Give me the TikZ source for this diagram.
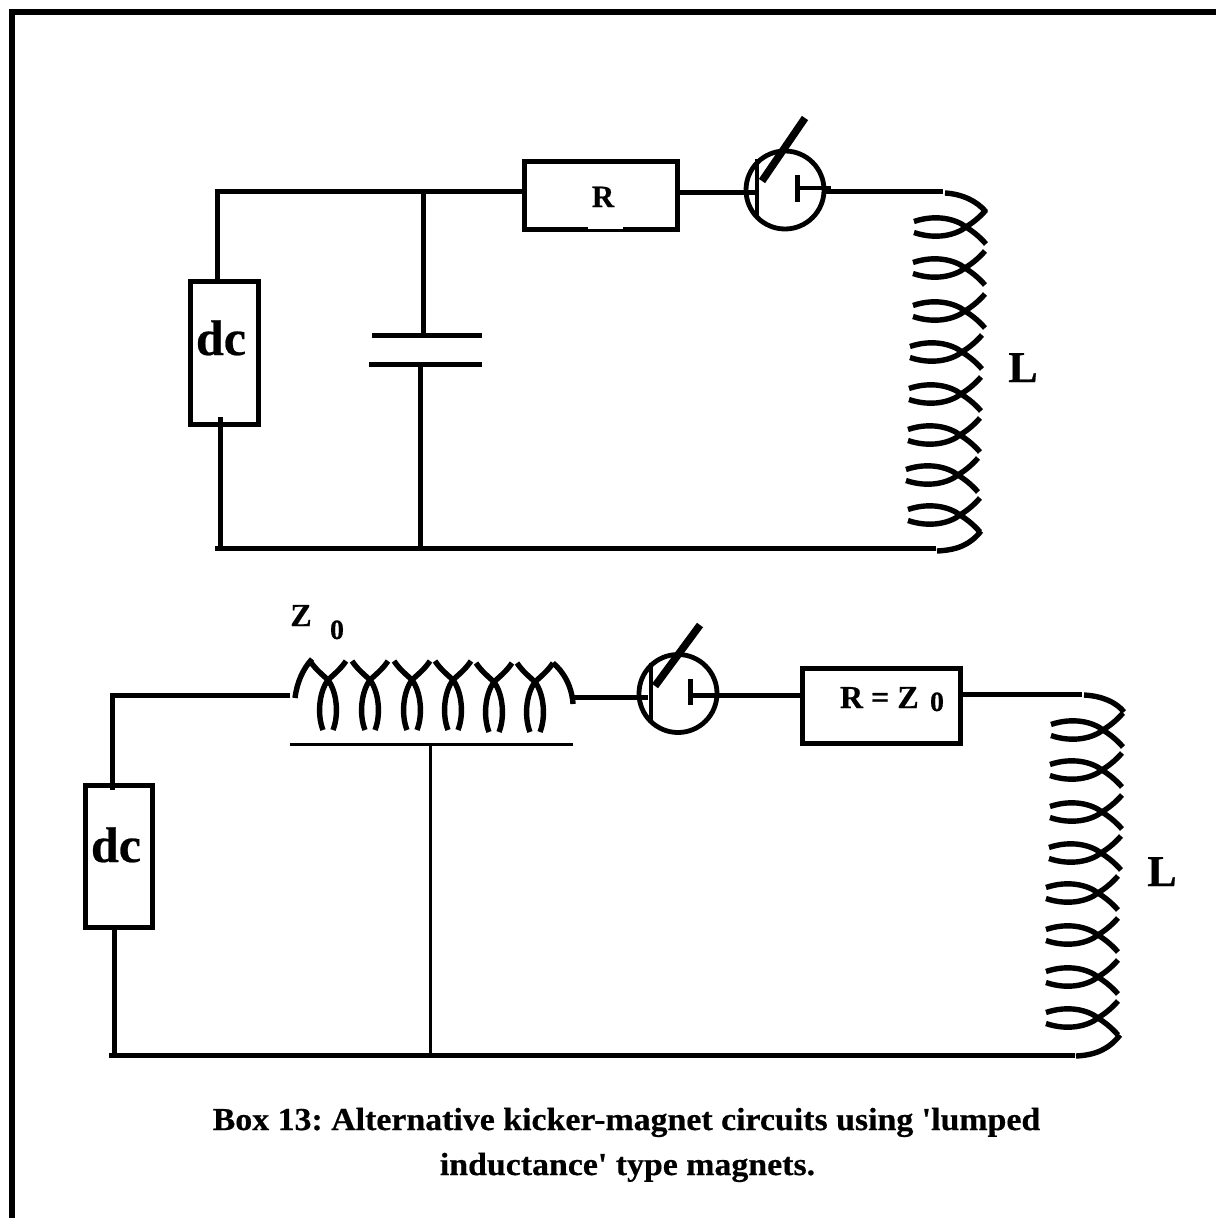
\documentclass[tikz,border=0pt]{standalone}
\usepackage{fontspec}
\setmainfont{Liberation Serif}[BoldFeatures={FakeBold=0.5}]
\newfontfamily\capfont{Liberation Serif}[FakeStretch=1.058,BoldFeatures={FakeStretch=1.058,FakeBold=0.5}]
\newcommand{\fsz}[1]{\fontsize{#1}{#1}\selectfont\bfseries}
\tikzset{
  wire/.style={line width=5pt,black},
  coilwire/.style={line width=5.4pt,black},
  thinwire/.style={line width=3pt,black},
  boxnode/.style={draw=black,line width=5pt,rectangle,inner sep=0pt,outer sep=0pt},
  sw/.style={draw=black,line width=4.8pt,circle,inner sep=0pt,outer sep=0pt,minimum size=78pt},
  lab/.style={anchor=base,inner sep=0pt,outer sep=0pt,black},
}
% one turn of the upright coil, given its crossing point
\newcommand{\turnV}[2]{%
  \begin{scope}[shift={(#1,#2)}]
    \draw[coilwire] (20,17) .. controls (12,8) and (6,4) .. (0,0) .. controls (-10,-8) and (-30,-13) .. (-52,-5.5);
    \draw[coilwire] (20,-17) .. controls (12,-8) and (6,-4) .. (0,0) .. controls (-10,8) and (-30,13) .. (-52,5.5);
  \end{scope}}
% one turn of the lying coil
\newcommand{\turnH}[2]{%
  \begin{scope}[shift={(#1,#2)}]
    \draw[coilwire] (18,-19) .. controls (12,-10) and (5,-5) .. (0,0) .. controls (-9,12) and (-11,35) .. (-5,50);
    \draw[coilwire] (-18,-19) .. controls (-12,-10) and (-5,-5) .. (0,0) .. controls (9,12) and (11,35) .. (5,50);
  \end{scope}}
\begin{document}
\begin{tikzpicture}[x=1pt,y=-1pt]
\frenchspacing
\useasboundingbox (0,0) rectangle (1216,1218);
\fill[white] (0,0) rectangle (1216,1218);
% frame
\coordinate (fbl) at (12,1218);
\coordinate (ftl) at (12,12);
\coordinate (ftr) at (1216,12);
\draw[line width=6pt,black] (fbl) -- (ftl) -- (ftr);

% ---- upper circuit
\node[boxnode,minimum width=68pt,minimum height=143pt] (dcA) at (224,352.5) {};
\node[lab,font=\fsz{50}] (dcAt) at (221,355) {dc};
\node[boxnode,minimum width=153pt,minimum height=68pt] (rA) at (600.5,195) {};
\fill[white] (588,226.5) rectangle (623,229);
\node[lab,font=\fsz{31}] (rAt) at (603,207) {R};
\node[sw] (swA) at (785,190) {};
\coordinate (a1) at (217,191);
\coordinate (a2) at (217,281);
\coordinate (a3) at (423,191);
\coordinate (a4) at (524,191);
\coordinate (a5) at (423,335);
\coordinate (c1l) at (372,335);
\coordinate (c1r) at (482,335);
\coordinate (c2l) at (369,364);
\coordinate (c2r) at (482,364);
\coordinate (a6) at (420,364);
\coordinate (a7) at (420,548);
\coordinate (a8) at (220,417);
\coordinate (a9) at (220,548);
\coordinate (a10) at (215,548);
\coordinate (a11) at (936,548);
\coordinate (a12) at (677,192);
\coordinate (a13) at (755,192);
\coordinate (a14) at (826,191);
\coordinate (a15) at (943,191);
\draw[wire] (a2) -- (a1) -- (a4);
\draw[wire] (a3) -- (a5);
\draw[wire] (c1l) -- (c1r);
\draw[wire] (c2l) -- (c2r);
\draw[wire] (a6) -- (a7);
\draw[wire] (a8) -- (a9);
\draw[wire] (a10) -- (a11);
\draw[wire] (a12) -- (a13);
\draw[wire] (a14) -- (a15);
% switch A
\coordinate (sa1) at (757,159);
\coordinate (sa2) at (757,217);
\coordinate (sa3) at (762,181);
\coordinate (sa4) at (805,118);
\coordinate (sa5) at (797,175);
\coordinate (sa6) at (797,202);
\coordinate (sa7) at (831,188);
\coordinate (sa8) at (797,188);
\draw[line width=4.5pt] (sa1) -- (sa2);
\draw[line width=7.5pt] (sa3) -- (sa4);
\draw[wire] (sa5) -- (sa6);
\draw[line width=4.5pt] (sa8) -- (sa7);
% coil A
\coordinate (la1) at (945,193);
\coordinate (la2) at (986,212);
\coordinate (la3) at (981,531);
\coordinate (la4) at (937,551);
\draw[coilwire] (la1) .. controls (962,194) and (977,201) .. (la2);
\draw[coilwire] (la4) .. controls (957,550) and (970,545) .. (la3);
\turnV{966}{227}\turnV{965}{268}\turnV{965}{311}\turnV{962}{352}
\turnV{961}{394}\turnV{960}{435}\turnV{958}{475}\turnV{960}{515}
\node[lab,font=\fsz{44}] (lA) at (1023,382) {L};

% ---- lower circuit
\node[boxnode,minimum width=67pt,minimum height=142pt] (dcB) at (118.5,856) {};
\node[lab,font=\fsz{50}] (dcBt) at (116,862) {dc};
\node[boxnode,minimum width=158pt,minimum height=75pt] (rB) at (881,705.5) {};
\node[lab,font=\fsz{32},anchor=base west] (rBt) at (840,708) {R = Z};
\node[lab,font=\fsz{28}] (rBs) at (937,711) {0};
\node[lab,font=\fsz{32}] (zt) at (301,626) {Z};
\node[lab,font=\fsz{28}] (zs) at (337,639) {0};
\node[sw] (swB) at (678,693.5) {};
\coordinate (b1) at (112,790);
\coordinate (b2) at (112,695);
\coordinate (b3) at (290,695);
\coordinate (b4) at (114,925);
\coordinate (b5) at (114,1055);
\coordinate (b6) at (109,1055);
\coordinate (b7) at (1075,1055);
\coordinate (b8) at (570,697);
\coordinate (b9) at (648,697);
\coordinate (b10) at (690,695);
\coordinate (b11) at (802,695);
\coordinate (b12) at (960,694.5);
\coordinate (b13) at (1082,694.5);
\coordinate (t1) at (290,744);
\coordinate (t2) at (573,744);
\coordinate (t3) at (430,744);
\coordinate (t4) at (430,1055);
\draw[wire] (b1) -- (b2) -- (b3);
\draw[wire] (b4) -- (b5);
\draw[wire] (b6) -- (b7);
\draw[wire] (b8) -- (b9);
\draw[wire] (b10) -- (b11);
\draw[wire] (b12) -- (b13);
\draw[thinwire] (t1) -- (t2);
\draw[thinwire] (t3) -- (t4);
% switch B
\coordinate (sb1) at (651,663);
\coordinate (sb2) at (651,722);
\coordinate (sb3) at (655,686);
\coordinate (sb4) at (700,625);
\coordinate (sb5) at (690,679);
\coordinate (sb6) at (690,705);
\draw[line width=4.5pt] (sb1) -- (sb2);
\draw[line width=7.5pt] (sb3) -- (sb4);
\draw[wire] (sb5) -- (sb6);
% series coil
\coordinate (h1) at (295,698);
\coordinate (h2) at (312,659);
\coordinate (h3) at (553,663);
\coordinate (h4) at (573,704);
\draw[coilwire] (h1) .. controls (297,682) and (303,669) .. (h2);
\draw[coilwire] (h3) .. controls (563,671) and (572,686) .. (h4);
\turnH{328}{680}\turnH{370}{680}\turnH{412}{680}\turnH{453}{680}\turnH{494}{682}\turnH{535}{682}
% coil B
\coordinate (lb1) at (1084,695);
\coordinate (lb2) at (1124,712);
\coordinate (lb3) at (1120,1035);
\coordinate (lb4) at (1076,1056);
\draw[coilwire] (lb1) .. controls (1102,696) and (1116,702) .. (lb2);
\draw[coilwire] (lb4) .. controls (1096,1055) and (1109,1049) .. (lb3);
\turnV{1103}{730}\turnV{1102}{770}\turnV{1102}{812}\turnV{1101}{853}
\turnV{1098}{893}\turnV{1098}{935}\turnV{1098}{977}\turnV{1098}{1018}
\node[lab,font=\fsz{44}] (lB) at (1162,886) {L};

% caption
\node[lab,font=\capfont\fontsize{32}{32}\selectfont\bfseries] (cap1) at (626.5,1130) {Box 13: Alternative kicker-magnet circuits using 'lumped};
\node[lab,font=\capfont\fontsize{32}{32}\selectfont\bfseries] (cap2) at (627.5,1175) {inductance' type magnets.};
\end{tikzpicture}
\end{document}
